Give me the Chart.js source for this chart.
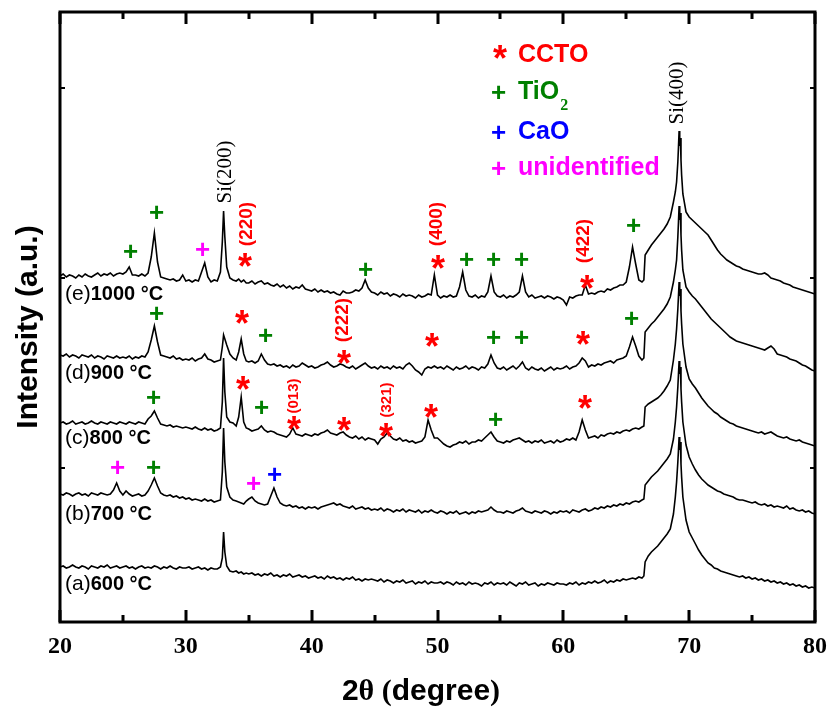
<!DOCTYPE html>
<html><head><meta charset="utf-8">
<script src="https://cdn.jsdelivr.net/npm/chart.js@4.4.1/dist/chart.umd.min.js"></script>
<style>html,body{margin:0;padding:0;background:#fff;overflow:hidden}#wrap{width:831px;height:711px}</style>
</head><body><div id="wrap"><canvas id="c" width="831" height="711"></canvas></div>
<script>
// 2-theta sampling positions (degree)
const angles = [
20,20.25,20.5,20.75,21,21.25,21.5,21.75,22,22.25,22.5,22.75,23,23.25,23.5,23.75,24,24.25,24.5,24.75,
25,25.25,25.5,25.75,26,26.25,26.5,26.75,27,27.25,27.5,27.75,28,28.25,28.5,28.75,29,29.25,29.5,29.75,
30,30.25,30.5,30.75,31,31.25,31.5,31.75,32,32.25,32.5,32.75,32.9,33,33.1,33.25,33.5,33.75,34,34.2,34.4,34.6,34.8,
35,35.25,35.5,35.75,36,36.25,36.5,36.75,37,37.25,37.5,37.75,38,38.25,38.5,38.75,39,39.25,39.5,39.75,
40,40.25,40.5,40.75,41,41.25,41.5,41.75,42,42.25,42.5,42.75,43,43.25,43.5,43.75,44,44.25,44.5,44.75,
45,45.25,45.5,45.75,46,46.25,46.5,46.75,47,47.25,47.5,47.75,48,48.25,48.5,48.75,49,49.25,49.5,49.75,
50,50.25,50.5,50.75,51,51.25,51.5,51.75,52,52.25,52.5,52.75,53,53.25,53.5,53.75,54,54.25,54.5,54.75,
55,55.25,55.5,55.75,56,56.25,56.5,56.75,57,57.25,57.5,57.75,58,58.25,58.5,58.75,59,59.25,59.5,59.75,
60,60.25,60.5,60.75,61,61.25,61.5,61.75,62,62.25,62.5,62.75,63,63.25,63.5,63.75,64,64.25,64.5,64.75,
65,65.25,65.5,65.75,66,66.25,66.4,66.5,66.75,67,67.25,67.5,67.75,68,68.25,68.5,68.75,68.9,69,69.1,69.15,69.2,69.25,69.3,69.35,69.4,69.5,69.75,
70,70.25,70.5,70.75,71,71.25,71.5,71.75,72,72.25,72.5,72.75,73,73.25,73.5,73.75,74,74.25,74.5,74.75,
75,75.25,75.5,75.75,76,76.25,76.5,76.75,77,77.25,77.5,77.75,78,78.25,78.5,78.75,79,79.25,79.5,79.75,80
];
// intensities (a.u., stacked offsets as in the figure)
const scan600 = [
55,56,54,55,57,55,54,56,55,53,56,55,54,56,55,57,54,55,56,54,
55,56,54,55,53,55,56,54,55,54,56,55,53,55,54,56,54,53,55,54,
54,55,53,54,55,53,54,52,54,53,53,55,64,90,70,56,51,50,51,49,50,48,49,
48,49,47,48,46,48,47,49,46,47,45,47,46,48,45,46,47,45,46,44,
45,46,44,45,43,46,44,45,43,44,42,44,43,45,42,43,41,43,42,43,
42,41,43,40,42,41,39,41,40,42,39,40,41,38,40,39,41,38,40,39,
39,40,38,40,39,37,40,38,39,37,40,38,39,38,36,39,38,40,37,39,
38,39,37,40,38,36,39,38,40,37,38,39,36,38,37,39,38,37,39,38,
38,37,39,38,40,37,39,38,40,39,41,39,40,42,39,41,40,42,41,43,
42,43,44,43,45,44,46,60,66,70,73,76,80,84,88,93,108,125,140,160,172,185,172,180,158,145,125,102,
90,84,78,72,67,63,59,57,54,53,51,50,49,48,47,46,45,46,44,45,
43,44,42,43,41,42,40,41,39,40,38,39,37,38,36,37,35,36,34,35,34
];
const scan700 = [
128,127,129,128,126,128,129,127,128,126,129,128,127,129,128,127,128,132,139,131,
127,131,128,126,127,128,126,127,131,137,144,136,129,127,126,127,125,126,124,125,
123,124,122,123,122,121,123,121,122,120,121,122,150,194,160,135,125,122,121,120,119,118,121,
123,125,121,119,118,117,118,126,134,125,119,117,116,117,115,116,114,115,113,115,
114,115,113,115,116,117,118,119,117,118,116,115,114,116,113,114,115,113,114,112,
113,112,114,111,113,112,110,112,111,113,110,112,111,110,112,109,111,110,112,110,
109,111,110,108,110,109,111,108,109,110,108,110,109,111,110,111,112,115,112,110,
110,109,111,110,109,111,112,114,111,110,109,111,110,109,111,110,108,110,109,111,
110,111,109,112,111,110,112,113,111,112,114,113,115,114,116,115,117,116,118,117,
119,118,120,121,120,122,123,137,141,145,148,151,155,159,163,168,183,200,215,235,248,261,248,255,233,220,200,177,
165,158,152,147,143,140,137,135,133,131,130,128,127,126,125,123,122,122,121,120,
119,120,118,117,118,116,117,115,116,115,114,116,113,114,112,111,112,110,111,109,108
];
const scan800 = [
199,200,198,199,201,198,199,200,198,199,201,199,198,200,199,198,200,199,198,200,
199,198,200,199,198,200,199,198,203,206,211,204,198,197,196,197,195,196,195,194,
195,194,193,195,193,192,194,192,193,191,192,194,220,264,230,205,200,199,196,205,225,200,194,
193,191,192,193,196,192,190,191,190,188,187,186,185,188,194,188,187,186,188,187,
186,188,187,189,190,192,189,188,187,189,190,187,185,184,186,183,185,182,184,183,
182,178,183,185,189,186,183,182,184,181,182,180,181,179,180,181,185,202,192,184,
184,181,178,176,175,177,178,180,179,181,178,180,180,182,181,184,187,190,185,181,
180,179,181,180,182,183,184,182,180,181,179,181,180,182,179,180,181,179,182,180,
181,183,182,184,182,190,202,192,184,185,186,184,187,186,188,189,188,190,189,191,
192,191,193,194,193,195,196,215,218,220,222,224,227,231,236,242,262,278,293,313,326,340,326,333,311,298,278,255,
243,238,234,229,224,220,216,213,210,208,205,203,201,199,198,196,195,194,193,192,
191,190,189,190,188,189,190,188,186,185,184,185,183,182,181,182,180,179,178,177,176
];
const scan900 = [
267,266,268,265,267,266,264,267,266,265,267,264,266,265,263,266,265,264,266,264,
265,264,266,263,265,264,266,265,270,282,296,280,267,266,265,264,266,263,264,262,
263,262,264,261,263,264,268,263,262,260,261,262,275,287,283,277,268,264,262,270,283,268,261,
260,261,259,261,268,262,258,257,258,256,257,255,256,254,257,255,256,259,257,255,
256,254,255,257,258,260,257,255,256,258,257,255,254,256,253,255,257,259,256,254,
255,253,256,254,255,253,256,254,255,253,257,259,256,252,250,247,253,255,254,256,
254,255,253,256,254,252,255,253,254,256,253,255,254,252,255,254,258,267,259,254,
253,255,252,254,256,253,256,260,254,252,255,253,252,254,251,253,255,252,254,253,
254,256,253,255,256,259,264,261,255,257,256,258,257,259,260,261,259,262,263,264,
266,275,285,276,266,262,264,290,294,298,301,305,309,313,318,325,340,352,362,385,400,416,402,409,387,372,352,335,
330,326,323,319,315,311,307,303,300,297,294,291,288,285,283,281,280,279,278,277,
276,275,274,273,272,274,276,273,268,267,266,265,263,262,261,259,257,256,254,252,251
];
const scan1000 = [
346,348,345,347,346,344,347,345,348,346,345,347,349,346,348,347,349,346,348,349,
348,350,355,347,347,346,348,346,349,365,389,360,345,344,343,342,343,341,342,347,
341,342,340,342,341,350,359,345,340,342,341,350,380,411,385,355,344,342,341,343,340,342,339,
339,341,338,340,341,338,339,337,336,338,335,337,334,336,333,335,334,337,333,332,
331,333,330,332,330,331,329,330,328,327,331,329,329,330,332,331,334,342,334,330,
329,327,330,328,329,326,328,327,325,328,326,327,326,324,327,325,326,328,327,347,
327,324,326,325,327,325,326,335,350,332,326,325,327,324,326,325,330,346,330,326,
325,327,324,326,325,327,330,346,330,325,327,324,325,326,324,326,325,323,325,324,
322,317,325,324,326,327,327,337,328,329,328,330,331,330,333,332,334,335,337,337,
340,355,375,358,342,340,342,367,372,377,381,385,389,393,398,405,420,430,440,460,475,491,476,484,462,447,428,410,
405,402,399,396,393,390,387,382,377,372,368,365,362,360,358,356,355,353,352,351,
350,349,348,348,349,347,344,343,342,341,339,338,337,335,334,333,332,331,330,329,328
];
const scans = [scan600, scan700, scan800, scan900, scan1000];
const sampleTags = ['(a)', '(b)', '(c)', '(d)', '(e)'];
const sampleTemps = ['600 °C', '700 °C', '800 °C', '900 °C', '1000 °C'];
const sampleTagLevels = [39, 109, 185, 250, 329];
const xTickValues = [20, 30, 40, 50, 60, 70, 80];
const yTickLevels = [154, 344, 534];

// phase markers: [angle, level, phase]
const phaseMarks = [
[25.64,371,'TiO2'],[27.71,410,'TiO2'],[31.36,373,'unid'],[34.70,362,'CCTO'],[44.32,353,'TiO2'],
[50.04,360,'CCTO'],[52.35,363,'TiO2'],[54.49,363,'TiO2'],[56.72,363,'TiO2'],[61.88,340,'CCTO'],[65.62,397,'TiO2'],
[27.71,309,'TiO2'],[34.46,305,'CCTO'],[36.37,287,'TiO2'],[42.57,265,'CCTO'],[49.56,282,'CCTO'],
[54.49,285,'TiO2'],[56.72,285,'TiO2'],[61.56,284,'CCTO'],[65.46,304,'TiO2'],
[27.47,225,'TiO2'],[34.54,239,'CCTO'],[36.05,215,'TiO2'],[38.60,199,'CCTO'],[42.57,198,'CCTO'],
[45.91,192,'CCTO'],[49.48,211,'CCTO'],[54.65,203,'TiO2'],[61.72,220,'CCTO'],
[24.61,155,'unid'],[27.47,155,'TiO2'],[35.42,139,'unid'],[37.09,148,'CaO']
];
// reflection labels: [text, angle, level, size]
const hklLabels = [
['(220)',34.86,398,19],['(400)',49.96,398,19],['(422)',61.64,381,19],['(222)',42.49,302,19],
['(013)',38.60,226,15],['(321)',45.99,222,15]
];
const siLabels = [['Si(200)',33.19,450],['Si(400)',69.11,529]];
const legendItems = [['*','CCTO','CCTO'],['+','TiO','TiO2'],['+','CaO','CaO'],['+','unidentified','unid']];
const phaseColors = {CCTO:'#ff0000', TiO2:'#008000', CaO:'#0000ff', unid:'#ff00ff'};

const SANS = '"Liberation Sans", Arial, sans-serif';
const SERIF = '"Liberation Serif", "Times New Roman", serif';

function glyph(ctx, ch, cx, cy, font, color){
  ctx.font = font; ctx.fillStyle = color; ctx.textAlign = 'left'; ctx.textBaseline = 'alphabetic';
  const m = ctx.measureText(ch);
  const x0 = cx - (m.actualBoundingBoxRight - m.actualBoundingBoxLeft)/2;
  const y0 = cy + (m.actualBoundingBoxAscent - m.actualBoundingBoxDescent)/2;
  ctx.fillText(ch, x0, y0);
}
function rotText(ctx, t, cx, cy, font, color){
  ctx.save(); ctx.translate(cx, cy); ctx.rotate(-Math.PI/2);
  ctx.font = font; ctx.fillStyle = color; ctx.textAlign = 'center'; ctx.textBaseline = 'middle';
  ctx.fillText(t, 0, 0); ctx.restore();
}

const decor = {
  id: 'decor',
  afterDatasetsDraw(chart){
    const {ctx, chartArea: a, scales: {x, y}} = chart;
    ctx.save();
    // frame
    ctx.strokeStyle = '#000'; ctx.lineWidth = 3;
    ctx.strokeRect(a.left, a.top, a.right - a.left, a.bottom - a.top);
    // x ticks (inward, top and bottom)
    ctx.lineWidth = 3;
    for (let v = 20; v <= 80; v += 5){
      const px = Math.round(x.getPixelForValue(v));
      const len = (v % 10 === 0) ? 12 : 7;
      ctx.beginPath();
      ctx.moveTo(px, a.bottom); ctx.lineTo(px, a.bottom - len);
      ctx.moveTo(px, a.top); ctx.lineTo(px, a.top + len);
      ctx.stroke();
    }
    ctx.lineWidth = 2;
    yTickLevels.forEach(v => {
      const py = Math.round(y.getPixelForValue(v));
      ctx.beginPath();
      ctx.moveTo(a.left, py); ctx.lineTo(a.left + 5, py);
      ctx.moveTo(a.right, py); ctx.lineTo(a.right - 5, py);
      ctx.stroke();
    });
    // phase markers
    phaseMarks.forEach(([ang, lev, ph]) => {
      const px = x.getPixelForValue(ang), py = y.getPixelForValue(lev);
      if (ph === 'CCTO') glyph(ctx, '*', px, py, 'bold 36px ' + SANS, phaseColors[ph]);
      else glyph(ctx, '+', px, py, 'bold 26px ' + SANS, phaseColors[ph]);
    });
    hklLabels.forEach(([t, ang, lev, sz]) => {
      rotText(ctx, t, x.getPixelForValue(ang), y.getPixelForValue(lev), 'bold ' + sz + 'px ' + SANS, '#ff0000');
    });
    siLabels.forEach(([t, ang, lev]) => {
      rotText(ctx, t, x.getPixelForValue(ang), y.getPixelForValue(lev), '21px ' + SERIF, '#000');
    });
    // sample labels
    sampleTags.forEach((tag, i) => {
      const px = x.getPixelForValue(20.4), py = y.getPixelForValue(sampleTagLevels[i]) + 7;
      ctx.fillStyle = '#000'; ctx.textAlign = 'left'; ctx.textBaseline = 'alphabetic';
      ctx.font = '21px ' + SANS;
      ctx.fillText(tag, px, py);
      const w = ctx.measureText(tag).width;
      ctx.font = 'bold 20px ' + SANS;
      ctx.fillText(sampleTemps[i], px + w, py);
    });
    // legend
    const lx = a.left + 439, tx = a.left + 458;
    const rows = [43, 80, 120, 156];
    legendItems.forEach(([g, label, ph], i) => {
      const cy = a.top + rows[i];
      const col = phaseColors[ph];
      if (g === '*') glyph(ctx, '*', lx + 1, cy - 3, 'bold 36px ' + SANS, col);
      else glyph(ctx, '+', lx, cy, 'bold 26px ' + SANS, col);
      ctx.fillStyle = col; ctx.textAlign = 'left'; ctx.textBaseline = 'middle';
      ctx.font = 'bold 25px ' + SANS;
      ctx.fillText(label, tx, cy);
      if (ph === 'TiO2'){
        const w = ctx.measureText(label).width;
        ctx.font = 'bold 16px ' + SERIF;
        ctx.fillText('2', tx + w + 1, cy + 14);
      }
    });
    // axis titles
    ctx.fillStyle = '#000'; ctx.textBaseline = 'alphabetic'; ctx.textAlign = 'left';
    const segs = [['2','bold 30px ' + SANS],['θ','bold 30px ' + SERIF],[' (','bold 30px ' + SERIF],['degree','bold 30px ' + SANS],[')','bold 30px ' + SERIF]];
    let tot = 0;
    segs.forEach(([t, f]) => { ctx.font = f; tot += ctx.measureText(t).width; });
    let cx = a.left + 361 - tot/2;
    segs.forEach(([t, f]) => { ctx.font = f; ctx.fillText(t, cx, 700); cx += ctx.measureText(t).width; });
    ctx.save(); ctx.translate(37, 327); ctx.rotate(-Math.PI/2);
    ctx.font = 'bold 30px ' + SANS; ctx.textAlign = 'center'; ctx.textBaseline = 'alphabetic';
    ctx.fillText('Intensity (a.u.)', 0, 0);
    ctx.restore();
    ctx.restore();
  }
};

new Chart(document.getElementById('c'), {
  type: 'line',
  data: {
    datasets: scans.map((s, i) => ({
      label: sampleTags[i] + sampleTemps[i],
      data: angles.map((a, k) => ({x: a, y: s[k]})),
      borderColor: '#000', borderWidth: 1.6, pointRadius: 0, tension: 0, fill: false
    }))
  },
  options: {
    responsive: false, devicePixelRatio: 1, animation: false,
    layout: {padding: {left: 60, right: 16, top: 12, bottom: 0}},
    plugins: {legend: {display: false}, tooltip: {enabled: false}},
    scales: {
      x: {
        type: 'linear', min: 20, max: 80,
        afterBuildTicks: s => { s.ticks = xTickValues.map(v => ({value: v})); },
        afterFit: s => { s.height = 89; s.paddingLeft = 0; s.paddingRight = 0; },
        grid: {display: false, drawTicks: false}, border: {display: false},
        ticks: {color: '#000', padding: 10, maxRotation: 0, font: {family: SERIF, weight: 'bold', size: 24}}
      },
      y: { display: false, min: 0, max: 610 }
    }
  },
  plugins: [decor]
});
</script></body></html>
